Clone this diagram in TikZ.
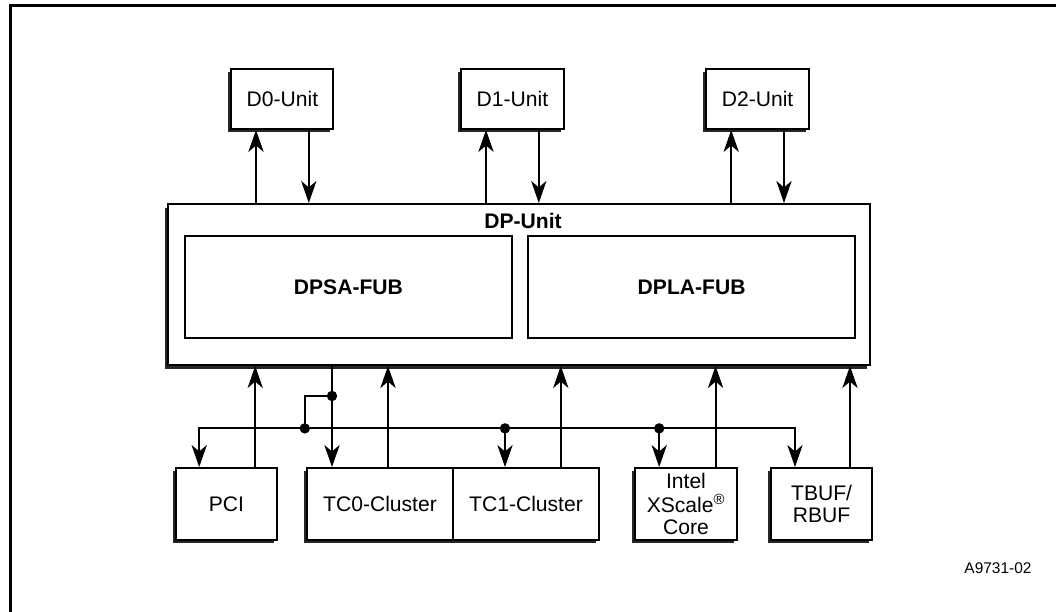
\documentclass[tikz,border=0pt]{standalone}
\usepackage{fontspec}
\setmainfont{Liberation Sans}
\usetikzlibrary{arrows.meta,shadows}

\begin{document}
\begin{tikzpicture}[scale=1.0,
        font=\fontsize{15}{15}\selectfont,
        unit/.style ={draw, line width=1.3pt, fill=white, inner sep=0pt,
            minimum width=2.55cm, minimum height=1.5cm,
            drop shadow={shadow xshift=-0.08cm, shadow yshift=-0.08cm, fill=black!85, opacity=1}},
        fub/.style ={draw, line width=1.3pt, minimum width=8.175cm, minimum height=2.55cm,
            font=\fontsize{15}{15}\selectfont\bfseries},
        lnk/.style ={-{Stealth[length=5.5mm, width=3.8mm, inset=1.6mm]}, line width=1.4pt},
        dot/.style ={circle, fill, inner sep=0pt, minimum size=0.26cm}]
    %--- Frame ---
    \useasboundingbox (0,0) rectangle (26.4,15.3);
    \draw[line width=1.6pt] (0.26,0) -- (0.26,15.16) -- (26.4,15.16);

    %--- Top units ---
    \node[unit] (D0) at (7.06, 12.825) {D0-Unit};
    \node[unit, minimum width=2.58cm] (D1) at (12.81, 12.825) {D1-Unit};
    \node[unit, minimum width=2.58cm] (D2) at (18.94, 12.825) {D2-Unit};

    %--- DP-Unit ---
    \node[draw, line width=1.4pt, fill=white, minimum width=17.55cm, minimum height=4.025cm,
        drop shadow={shadow xshift=-0.07cm, shadow yshift=-0.09cm, fill=black!85, opacity=1}]
        (DP) at (12.975, 8.1875) {};
    \node[font=\fontsize{15}{15}\selectfont\bfseries] (DPlbl) at (13.075, 9.775) {DP-Unit};
    \node[fub] (DPSA) at (8.71, 8.125) {DPSA-FUB};
    \node[fub] (DPLA) at (17.29, 8.125) {DPLA-FUB};

    %--- Bottom units ---
    \node[unit, minimum height=1.8cm, minimum width=2.525cm] (PCI) at (5.66, 2.7) {PCI};
    \node[unit, minimum height=1.8cm, minimum width=3.65cm] (TC1) at (13.15, 2.7) {TC1-Cluster};
    \node[unit, minimum height=1.8cm, minimum width=3.65cm] (TC0) at (9.5, 2.7) {TC0-Cluster};
    \node[unit, minimum height=1.8cm, align=center, font=\fontsize{15}{16}\selectfont] (XS) at (17.15, 2.7)
        {Intel\\[1pt]XScale\textsuperscript{®}\\Core};
    \node[unit, minimum height=1.8cm, minimum width=2.525cm, align=center] (TBUF) at (20.54, 2.7)
        {TBUF/\\[1pt]RBUF};

    %--- Arrows to and from the top units ---
    \foreach \u in {D0,D1,D2} {
        \draw[lnk] ([xshift=-0.66cm]\u.south |- DP.north) -- ([xshift=-0.66cm]\u.south);
        \draw[lnk] ([xshift=0.66cm]\u.south) -- ([xshift=0.66cm]\u.south |- DP.north);
    }

    %--- Arrows up into the DP-Unit ---
    \foreach \u/\dx in {PCI/0.72, TC0/0.2, TC1/0.87, XS/0.74, TBUF/0.71}
        \draw[lnk] ([xshift=\dx cm]\u.north) -- ([xshift=\dx cm]\u.north |- DP.south);

    %--- Bus ---
    \coordinate (j0) at (8.3, 5.4);
    \coordinate (j1) at (7.62, 4.59);
    \coordinate (j2) at (12.625, 4.59);
    \coordinate (j3) at (16.48, 4.59);

    \draw[lnk] (DP.south -| j0) -- (TC0.north -| j0);
    \draw[line width=1.4pt] (j0) -| (j1);
    \draw[lnk] (j1) -| ([xshift=-0.68cm]PCI.north);
    \draw[lnk] (j1) -| ([xshift=-0.665cm]TBUF.north);
    \draw[lnk] (j2) -- (j2 |- TC1.north);
    \draw[lnk] (j3) -- (j3 |- XS.north);
    \foreach \j in {j0,j1,j2,j3}
        \node[dot] (dot-\j) at (\j) {};

    \node[font=\fontsize{11}{13}\selectfont] (fig) at (24.95, 1.1) {A9731-02};
\end{tikzpicture}
\end{document}
